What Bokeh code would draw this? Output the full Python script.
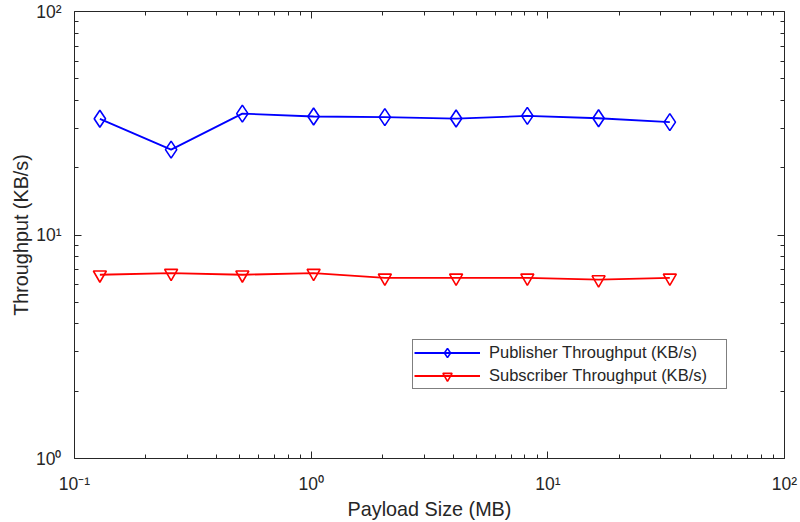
from bokeh.plotting import figure
from bokeh.models import FixedTicker, LogAxis, Legend, LegendItem
from bokeh.embed import file_html
from bokeh.resources import INLINE

# ---- data ----
payload_mb = [0.128, 0.256, 0.512, 1.024, 2.048, 4.096, 8.192, 16.384, 32.768]
publisher_kbps = [33.1, 24.1, 34.9, 33.9, 33.7, 33.2, 34.1, 33.3, 32.0]
subscriber_kbps = [6.64, 6.75, 6.64, 6.75, 6.43, 6.43, 6.43, 6.32, 6.43]

x_ticks = [0.1, 1, 10, 100]
x_tick_labels = ["10\u207b\u00b9", "10\u2070", "10\u00b9", "10\u00b2"]
y_ticks = [1, 10, 100]
y_tick_labels = ["10\u2070", "10\u00b9", "10\u00b2"]
series_names = ["Publisher Throughput (KB/s)", "Subscriber Throughput (KB/s)"]
x_title = "Payload Size (MB)"
y_title = "Throughput (KB/s)"

FONT = "Liberation Sans"
INK = "#262626"

x_minor = [k * 10.0 ** e for e in range(-1, 2) for k in range(2, 10)]
y_minor = [k * 10.0 ** e for e in range(0, 2) for k in range(2, 10)]
x_ticker = FixedTicker(ticks=x_ticks, minor_ticks=x_minor)
y_ticker = FixedTicker(ticks=y_ticks, minor_ticks=y_minor)

p = figure(width=800, height=522, x_axis_type="log", y_axis_type="log",
           x_range=(0.1, 100), y_range=(1, 100),
           output_backend="svg", toolbar_location=None,
           min_border_left=74, min_border_right=16,
           min_border_top=11, min_border_bottom=64,
           background_fill_color="white", border_fill_color="white")
p.grid.visible = False
p.outline_line_color = None


def style_axis(ax, labels=True):
    ax.axis_line_color = INK
    ax.axis_line_width = 1
    ax.major_tick_line_color = INK
    ax.minor_tick_line_color = INK
    ax.major_tick_in = 7
    ax.major_tick_out = 0
    ax.minor_tick_in = 4
    ax.minor_tick_out = 0
    ax.major_label_text_font = FONT
    ax.major_label_text_color = INK
    ax.axis_label_text_font = FONT
    ax.axis_label_text_color = INK
    ax.axis_label_text_font_style = "normal"
    if not labels:
        ax.major_label_text_font_size = "0px"
        ax.major_label_standoff = 0


xa = p.xaxis[0]
xa.ticker = x_ticker
style_axis(xa)
xa.major_label_overrides = dict(zip(x_ticks, x_tick_labels))
xa.major_label_text_font_size = "17.5px"
xa.major_label_standoff = 15
xa.axis_label = x_title
xa.axis_label_text_font_size = "19.8px"
xa.axis_label_standoff = 1

ya = p.yaxis[0]
ya.ticker = y_ticker
style_axis(ya)
ya.major_label_overrides = dict(zip(y_ticks, y_tick_labels))
ya.major_label_text_font_size = "17.5px"
ya.major_label_standoff = 13
ya.axis_label = y_title
ya.axis_label_text_font_size = "19.8px"
ya.axis_label_standoff = 1

top = LogAxis(ticker=FixedTicker(ticks=x_ticks, minor_ticks=x_minor))
style_axis(top, labels=False)
top.major_label_overrides = {t: "" for t in x_ticks}
p.add_layout(top, "above")
right = LogAxis(ticker=FixedTicker(ticks=y_ticks, minor_ticks=y_minor))
style_axis(right, labels=False)
right.major_label_overrides = {t: "" for t in y_ticks}
p.add_layout(right, "right")

blue = "#0000FF"
red = "#FF0000"
l1 = p.line(payload_mb, publisher_kbps, line_color=blue, line_width=1.8)
m1 = p.scatter(payload_mb, publisher_kbps, marker="diamond", size=17,
               line_color=blue, fill_color=None, line_width=1.6)
l2 = p.line(payload_mb, subscriber_kbps, line_color=red, line_width=1.8)
m2 = p.scatter(payload_mb, subscriber_kbps, marker="inverted_triangle", size=13,
               line_color=red, fill_color=None, line_width=1.6)

legend = Legend(items=[LegendItem(label=series_names[0], renderers=[l1, m1]),
                       LegendItem(label=series_names[1], renderers=[l2, m2])],
                location=(338, 69), margin=0, padding=1, spacing=0,
                glyph_width=66, glyph_height=23, label_height=23,
                label_width=236, label_standoff=9,
                label_text_font=FONT, label_text_font_size="16.5px",
                label_text_color=INK,
                border_line_color="#000000", border_line_width=1,
                background_fill_color="white", background_fill_alpha=1)
p.add_layout(legend)

open("out.html", "w").write(file_html(p, INLINE))
